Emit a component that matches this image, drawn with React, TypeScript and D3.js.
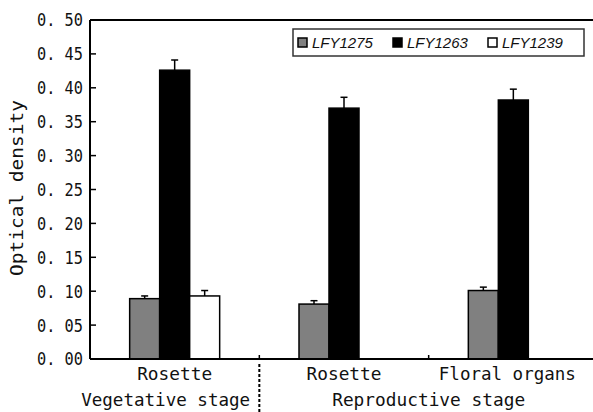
import * as d3 from 'd3';

const categories = ['Rosette', 'Rosette', 'Floral organs'];
const categoryWidths = [75, 75, 137];
const seriesNames = ['LFY1275', 'LFY1263', 'LFY1239'];
const seriesColors = ['#808080', '#000000', '#ffffff'];
const lfy1275 = [0.089, 0.081, 0.101];
const lfy1275Err = [0.004, 0.005, 0.005];
const lfy1263 = [0.426, 0.37, 0.382];
const lfy1263Err = [0.015, 0.016, 0.016];
const lfy1239: (number | null)[] = [0.093, null, null];
const lfy1239Err = [0.008, 0, 0];
const yTicks = [0, 0.05, 0.1, 0.15, 0.2, 0.25, 0.3, 0.35, 0.4, 0.45, 0.5];
const stages = [
  { label: 'Vegetative stage', from: 0, to: 1, width: 169 },
  { label: 'Reproductive stage', from: 1, to: 3, width: 193 },
];

const W = 593;
const H = 412;
const left = 90;
const right = 598; // plot area runs past the cropped edge
const top = 20;
const bottom = 359;
const mono = '"DejaVu Sans Mono", "Liberation Mono", monospace';

export default function App() {
  const values = [lfy1275, lfy1263, lfy1239];
  const errs = [lfy1275Err, lfy1263Err, lfy1239Err];
  const idx = categories.map((_, i) => i);

  const x = d3.scaleBand<number>().domain(idx).range([left, right]).padding(0);
  const xs = d3.scaleBand<number>().domain([0, 1, 2]).range([-45, 45]).padding(0);
  const y = d3.scaleLinear().domain([0, 0.5]).range([bottom, top]);
  const fmt = (v: number) => d3.format('.2f')(v).replace('.', '. ');

  return (
    <svg width={W} height={H} style={{ position: 'absolute', left: 0, top: 0, background: '#fff' }}>
      {/* bars */}
      {values.map((vals, s) =>
        vals.map((v, i) => {
          if (v == null) return null;
          const cx = x(i)! + x.bandwidth() / 2;
          const bx = cx + xs(s)!;
          const bw = xs.bandwidth();
          const e = errs[s][i];
          const mid = bx + bw / 2;
          return (
            <g key={`${s}-${i}`}>
              <rect x={bx} y={y(v)} width={bw} height={y(0) - y(v)} fill={seriesColors[s]} stroke="#000" strokeWidth={1.5} />
              {e > 0 && (
                <g stroke="#000" strokeWidth={1.5}>
                  <line x1={mid} x2={mid} y1={y(v)} y2={y(v + e)} />
                  <line x1={mid - 3.5} x2={mid + 3.5} y1={y(v + e)} y2={y(v + e)} />
                </g>
              )}
            </g>
          );
        })
      )}

      {/* frame */}
      <line x1={left} x2={right} y1={top} y2={top} stroke="#000" strokeWidth={2} />
      <line x1={left} x2={left} y1={top} y2={bottom} stroke="#000" strokeWidth={2} />
      <line x1={left} x2={right} y1={bottom} y2={bottom} stroke="#000" strokeWidth={2} />

      {/* y ticks */}
      {yTicks.map((t) => (
        <g key={t}>
          <line x1={left} x2={left + 6} y1={y(t)} y2={y(t)} stroke="#000" strokeWidth={1.5} />
          <text x={83} y={y(t)} dy="0.36em" textAnchor="end" fontFamily={mono} fontSize={18}
            textLength={46} lengthAdjust="spacingAndGlyphs" fill="#111">
            {fmt(t)}
          </text>
        </g>
      ))}

      {/* x category ticks */}
      {idx.slice(1).map((i) => (
        <line key={i} x1={x(i)!} x2={x(i)!} y1={bottom} y2={bottom - 4} stroke="#000" strokeWidth={1.5} />
      ))}

      {/* category labels */}
      {categories.map((c, i) => (
        <text key={i} x={x(i)! + x.bandwidth() / 2 - (i === 2 ? 6 : 0)} y={380} textAnchor="middle"
          fontFamily={mono} fontSize={18} textLength={categoryWidths[i]} lengthAdjust="spacingAndGlyphs" fill="#111">
          {c}
        </text>
      ))}

      {/* stage labels */}
      {stages.map((st) => {
        const cx = (x(st.from)! + x(st.to - 1)! + x.bandwidth()) / 2;
        return (
          <text key={st.label} x={st.from === 0 ? cx - 9 : cx} y={406} textAnchor="middle"
            fontFamily={mono} fontSize={18} textLength={st.width} lengthAdjust="spacingAndGlyphs" fill="#111">
            {st.label}
          </text>
        );
      })}
      <line x1={x(1)!} x2={x(1)!} y1={364} y2={H} stroke="#000" strokeWidth={2} strokeDasharray="3,2" />

      {/* y label */}
      <text transform={`translate(23,188) rotate(-90)`} textAnchor="middle" fontFamily={mono} fontSize={18}
        textLength={176} lengthAdjust="spacingAndGlyphs" fill="#111">
        Optical density
      </text>

      {/* legend */}
      <rect x={293} y={29} width={291} height={27} fill="#fff" stroke="#333" strokeWidth={1.5} />
      {seriesNames.map((n, s) => {
        const lx = [298, 393, 488][s];
        return (
          <g key={n}>
            <rect x={lx} y={38} width={9} height={9} fill={seriesColors[s]} stroke="#000" strokeWidth={1.5} />
            <text x={lx + 14} y={43} dy="0.36em" fontFamily='"Liberation Sans", Arial, sans-serif'
              fontStyle="italic" fontSize={15} fill="#111">
              {n}
            </text>
          </g>
        );
      })}
    </svg>
  );
}
